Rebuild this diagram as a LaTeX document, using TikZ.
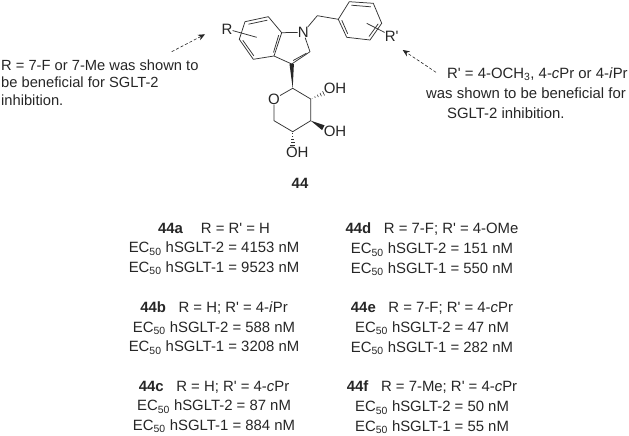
\documentclass[tikz,border=0pt]{standalone}
\usepackage{fontspec}
\setmainfont{Liberation Sans}[Ligatures=TeXOff]
\usepackage{tikz}
\usetikzlibrary{calc, arrows.meta, positioning}
\tikzset{
    textnode/.style  = {draw=none, fill=none, rectangle, inner sep = 0em, node distance=0em, font=\fontsize{14.9}{19.7}\selectfont, text=black!85},
    blocknode/.style = {textnode, align=center},
    sidenode/.style  = {textnode, font=\fontsize{14.7}{17.5}\selectfont, align=left},
    atomnode/.style  = {textnode, font=\fontsize{15}{16}\selectfont},
    bond/.style = {line width=0.75pt, black!80},
    wedge/.style = {fill=black!85, draw=none},
    hint/.style = {black!85, densely dashed, line width=0.6pt, -{Stealth[length=7pt,width=6pt]}}
}
\newcommand{\ecline}[2]{EC\textsubscript{50} hSGLT-#1 = #2 nM}
\newcommand{\hashbond}[2]{\foreach \t in {0.1,0.3,...,1.0} {\draw[line width=0.6pt, black!80] ($(#1)!\t!(#2)!\t*2.6pt!90:(#2)$) -- ($(#1)!\t!(#2)!\t*2.6pt!-90:(#2)$);}}
\begin{document}
\begin{tikzpicture}[x=1pt, y=-1pt]
    \useasboundingbox (0,0) rectangle (629,436);
    % indole
    \coordinate (N1) at (303.3,32.3);
    \coordinate (C7a) at (281.7,32.7);
    \coordinate (C3a) at (274,56);
    \coordinate (C3) at (291.7,64);
    \coordinate (C2) at (310,51.7);
    \coordinate (C7) at (268.3,16.7);
    \coordinate (C6) at (245,21.7);
    \coordinate (C5) at (239.3,39.3);
    \coordinate (C4) at (253.3,59.3);
    \node [atomnode, name=Ntext] at (N1) {N};
    \node [atomnode, name=Rtext] at (227,29) {R};
    \draw[bond] (Ntext) -- (C7a) -- (C7) -- (C6) -- (C5) -- (C4) -- (C3a) -- (C7a);
    \draw[bond] (C3a) -- (C3) -- (C2) -- (Ntext);
    \draw[bond] ($(C6)+(3.5,2.5)$) -- ($(C7)+(-1,3.5)$);
    \draw[bond] ($(C5)+(3.5,1)$) -- ($(C4)+(0.5,-3.5)$);
    \draw[bond] ($(C7a)+(-3,2.5)$) -- ($(C3a)+(-0.5,-3.5)$);
    \draw[bond] ($(C2)+(-3.5,1.5)$) -- ($(C3)+(1.5,-3.5)$);
    \coordinate (Rend) at (256.7,37.3);
    \draw[bond] (Rtext) -- (Rend);
    % benzyl
    \coordinate (CH2) at (317.3,15.7);
    \coordinate (B1) at (338.3,19.3);
    \coordinate (B2) at (349.3,1.7);
    \coordinate (B3) at (373.3,3.3);
    \coordinate (B4) at (381.7,23.3);
    \coordinate (B5) at (370,40);
    \coordinate (B6) at (346.7,37.3);
    \draw[bond] (Ntext) -- (CH2) -- (B1) -- (B2) -- (B3) -- (B4) -- (B5) -- (B6) -- (B1);
    \draw[bond] ($(B2)+(2,3.5)$) -- ($(B3)+(-2.5,3.5)$);
    \draw[bond] ($(B4)+(-3.5,0.5)$) -- ($(B5)+(-1,-3.5)$);
    \draw[bond] ($(B6)+(1,-3.5)$) -- ($(B1)+(3.5,1)$);
    \node [atomnode, name=Rptext] at (391.7,36) {R'};
    \coordinate (Rpend) at (366.7,23.3);
    \draw[bond] (Rptext) -- (Rpend);
    % sugar ring
    \coordinate (S1) at (292.7,88.3);
    \node [atomnode, name=Otext] at (274,99) {O};
    \coordinate (S5) at (274,120.7);
    \coordinate (S4) at (292.7,131.7);
    \coordinate (S3) at (310.7,120.7);
    \coordinate (S2) at (310.7,99);
    \draw[bond] (Otext) -- (S1) -- (S2) -- (S3) -- (S4) -- (S5) -- (Otext);
    \fill[wedge] (S1) -- ($(C3)+(-2.2,0)$) -- ($(C3)+(2.2,0)$) -- cycle;
    \node [atomnode, name=OHa] at (335,88.3) {OH};
    \node [atomnode, name=OHb] at (335,131) {OH};
    \node [atomnode, name=OHc] at (297.3,152.7) {OH};
    \coordinate (Ha) at (325,92.7);
    \coordinate (Wb) at (323.3,127.7);
    \coordinate (Hc) at (292.7,146.7);
    \hashbond{S2}{Ha}
    \hashbond{S4}{Hc}
    \fill[wedge] (S3) -- ($(Wb)+(1.2,-2.4)$) -- ($(Wb)+(-1.2,2.4)$) -- cycle;
    \node [textnode, name=cmpd, font=\fontsize{14.9}{16}\selectfont\bfseries] at (300,183.3) {44};
    % notes
    \node [sidenode, name=noteR, anchor=north west] at (1,59.5) {R = 7-F or 7-Me was shown to\\be beneficial for SGLT-2\\inhibition.};
    \node [textnode, name=noteRa, anchor=base west] at (447,78) {R' = 4-OCH\textsubscript{3}, 4-\textit{c}Pr or 4-\textit{i}Pr};
    \node [textnode, name=noteRb, anchor=base west] at (426,98) {was shown to be beneficial for};
    \node [textnode, name=noteRc, anchor=base west] at (447,118) {SGLT-2 inhibition.};
    \coordinate (tailL) at (171.7,51.7);
    \coordinate (tipL) at (205,34.3);
    \coordinate (tailR) at (436,72.3);
    \coordinate (tipR) at (402.7,50);
    \draw[hint] (tailL) -- (tipL);
    \draw[hint] (tailR) -- (tipR);
    % activity tables
    \node [blocknode, name=ca] at (214,249) {\textbf{44a}\hspace{1.2em}R = R' = H\\\ecline{2}{4153}\\\ecline{1}{9523}};
    \node [blocknode, name=cb, below of=ca, yshift=-79pt] {\textbf{44b}\hspace{0.85em}R = H; R' = 4-\textit{i}Pr\\\ecline{2}{588}\\\ecline{1}{3208}};
    \node [blocknode, name=cc, below of=cb, yshift=-79pt] {\textbf{44c}\hspace{0.85em}R = H; R' = 4-\textit{c}Pr\\\ecline{2}{87}\\\ecline{1}{884}};
    \node [blocknode, name=cd, right of=ca, xshift=218pt, yshift=-0.5pt] {\textbf{44d}\hspace{0.85em}R = 7-F; R' = 4-OMe\\\ecline{2}{151}\\\ecline{1}{550}};
    \node [blocknode, name=ce, below of=cd, yshift=-79pt] {\textbf{44e}\hspace{0.85em}R = 7-F; R' = 4-\textit{c}Pr\\\ecline{2}{47}\\\ecline{1}{282}};
    \node [blocknode, name=cf, below of=ce, yshift=-79pt] {\textbf{44f}\hspace{0.85em}R = 7-Me; R' = 4-\textit{c}Pr\\\ecline{2}{50}\\\ecline{1}{55}};
\end{tikzpicture}
\end{document}
